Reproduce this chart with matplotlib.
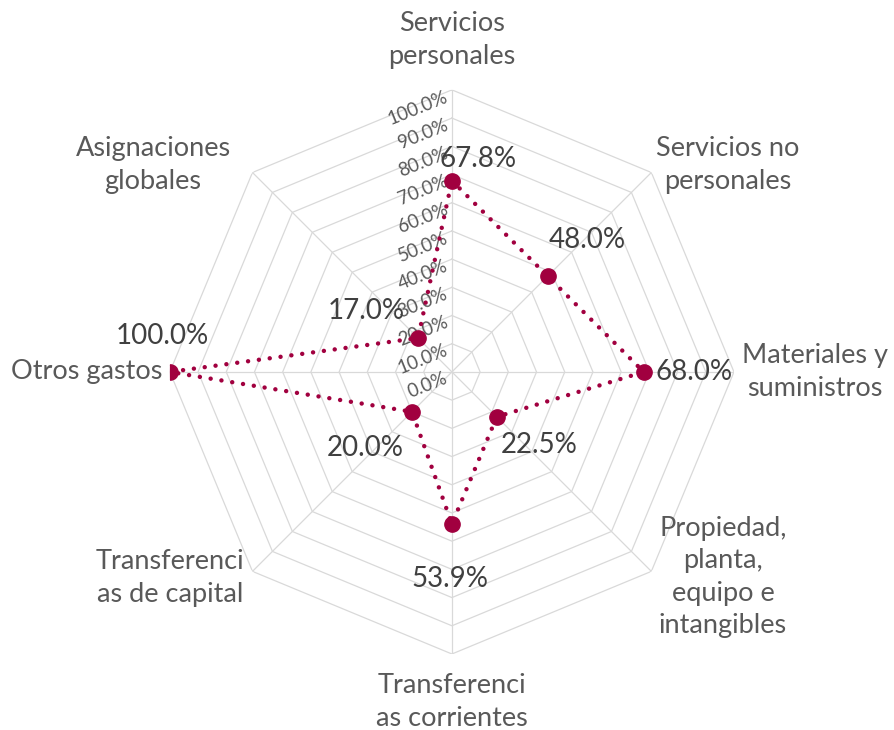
import numpy as np
import matplotlib.pyplot as plt

plt.rcParams['font.family'] = ['Lato', 'DejaVu Sans']

# Data
categories = ['Servicios\npersonales', 'Servicios no\npersonales', 'Materiales y\nsuministros',
              'Propiedad,\nplanta,\nequipo e\nintangibles', 'Transferenci\nas corrientes',
              'Transferenci\nas de capital', 'Otros gastos', 'Asignaciones\nglobales']
values = [67.8, 48.0, 68.0, 22.5, 53.9, 20.0, 100.0, 17.0]
value_labels = ['67.8%', '48.0%', '68.0%', '22.5%', '53.9%', '20.0%', '100.0%', '17.0%']
ticks = [0, 10, 20, 30, 40, 50, 60, 70, 80, 90, 100]
tick_labels = ['0.0%', '10.0%', '20.0%', '30.0%', '40.0%', '50.0%', '60.0%', '70.0%',
               '80.0%', '90.0%', '100.0%']

LINE = '#A1003F'
GRID = '#d9d9d9'
TXT = '#595959'

n = len(categories)
angles = np.arange(n) * 2 * np.pi / n

fig = plt.figure(figsize=(8.94, 7.30), dpi=100)
ax = fig.add_axes([0.190, 0.104, 0.631, 0.773], projection='polar')
ax.set_theta_zero_location('N')
ax.set_theta_direction(-1)
ax.set_ylim(0, 100)
ax.axis('off')

# octagon grid
ang_closed = np.append(angles, angles[0])
for t in ticks[1:]:
    ax.plot(ang_closed, [t] * (n + 1), color=GRID, lw=0.9, zorder=1)
for a in angles:
    ax.plot([a, a], [0, 100], color=GRID, lw=0.9, zorder=1)

# tick labels along the top spoke
for t, lab in zip(ticks, tick_labels):
    ax.annotate(lab, xy=(0, t), xytext=(-5, -6), textcoords='offset pixels',
                ha='right', va='center', rotation=22, rotation_mode='anchor',
                fontsize=13.5, color=TXT, zorder=2)

# data
vals_closed = values + values[:1]
ax.plot(ang_closed, vals_closed, color=LINE, lw=3.2,
        linestyle=(0, (0.01, 2.45)), dash_capstyle='round', zorder=3)
ax.plot(angles, values, 'o', color=LINE, ms=11, zorder=4)

label_offsets = [(26, 22), (40, 36), (50, 0), (42, -28), (-2, -55), (-47, -36), (-8, 36), (-52, 27)]
for a, v, lab, off in zip(angles, values, value_labels, label_offsets):
    ax.annotate(lab, xy=(a, v), xytext=off, textcoords='offset pixels',
                ha='center', va='center', fontsize=20, color='#404040', zorder=5)

# category labels (pixel positions from figure centre)
cat_pos = [(452, 40), (728, 165), (815, 372), (723, 577), (452, 702), (170, 578), (87, 372), (153, 165)]
W, H = 894, 730
for lab, (px, py) in zip(categories, cat_pos):
    fig.text(px / W, 1 - py / H, lab, ha='center', va='center', fontsize=19.5,
             color=TXT, linespacing=1.38)

fig.savefig('out.png', dpi=100)
